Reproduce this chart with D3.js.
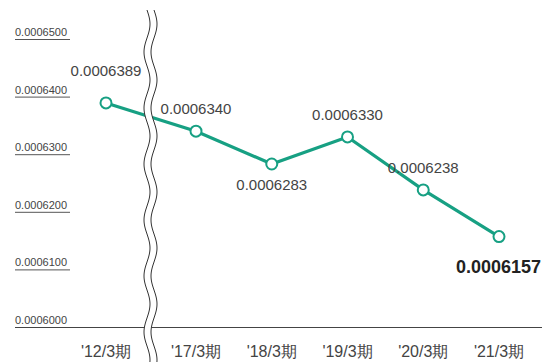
<!DOCTYPE html>
<html>
<head>
<meta charset="utf-8">
<script src="https://cdn.jsdelivr.net/npm/d3@7"></script>
<style>
  body { margin: 0; background: #fff; }
  text { font-family: "Liberation Sans Narrow", "Liberation Sans", Arial, sans-serif; fill: #333; }
</style>
</head>
<body>
<script>
'use strict';

const periods = ["'12/3期", "'17/3期", "'18/3期", "'19/3期", "'20/3期", "'21/3期"];
const values = [0.0006389, 0.0006340, 0.0006283, 0.0006330, 0.0006238, 0.0006157];
const yTicks = [0.0006000, 0.0006100, 0.0006200, 0.0006300, 0.0006400, 0.0006500];
// where each value label sits relative to its point
const labelPos = ["top", "above", "below", "above", "above", "bold"];

const width = 542, height = 362,
      green = "#17a083";

const svg = d3.select("body").append("svg")
    .attr("width", width)
    .attr("height", height);

const y = d3.scaleLinear().domain([0.0006, 0.00065]).range([327, 39]);
// first period sits before the axis break, the rest are evenly spaced after it
const xAfter = d3.scalePoint().domain(periods.slice(1)).range([196, 499]);
const xpos = (p) => p === periods[0] ? 106 : xAfter(p);

// y tick labels with underline
const ticks = svg.append("g").selectAll("g")
    .data(yTicks)
  .enter().append("g");

ticks.append("text")
    .attr("x", 15)
    .attr("y", (d) => y(d) - 3)
    .style("font-family", "'Liberation Sans', Arial, sans-serif")
    .style("font-size", "11px")
    .style("fill", "#444")
    .text((d) => d.toFixed(7));

ticks.filter((d) => d !== yTicks[0]).append("line")
    .attr("x1", 15).attr("x2", 70)
    .attr("y1", (d) => y(d) + 0.5).attr("y2", (d) => y(d) + 0.5)
    .attr("stroke", "#555").attr("stroke-width", 1);

// baseline
svg.append("line")
    .attr("x1", 15).attr("x2", width)
    .attr("y1", y(yTicks[0]) + 0.5).attr("y2", y(yTicks[0]) + 0.5)
    .attr("stroke", "#444").attr("stroke-width", 1);

// line
const pts = values.map((v, i) => [xpos(periods[i]), y(v)]);
svg.append("path")
    .datum(pts)
    .attr("fill", "none")
    .attr("stroke", green)
    .attr("stroke-width", 3.2)
    .attr("d", d3.line());

// axis break (two wavy lines, white between)
const waveL = [], waveR = [];
for (let yy = 10; yy <= height; yy += 2) {
  const off = 3 * Math.sin((yy - 10) / 56 * 2 * Math.PI);
  waveL.push([147 + off, yy]);
  waveR.push([154 + off, yy]);
}
svg.append("path")
    .attr("d", d3.line()(waveL.concat(waveR.slice().reverse())) + "Z")
    .attr("fill", "#fff");
[waveL, waveR].forEach((w) => {
  svg.append("path")
      .attr("d", d3.line()(w))
      .attr("fill", "none")
      .attr("stroke", "#333")
      .attr("stroke-width", 1);
});

// markers
svg.append("g").selectAll("circle")
    .data(pts)
  .enter().append("circle")
    .attr("cx", (d) => d[0])
    .attr("cy", (d) => d[1])
    .attr("r", 5.5)
    .attr("fill", "#fff")
    .attr("stroke", green)
    .attr("stroke-width", 2);

// value labels
svg.append("g").selectAll("text")
    .data(values)
  .enter().append("text")
    .attr("x", (d, i) => labelPos[i] === "bold" ? width - 1 : pts[i][0])
    .attr("y", (d, i) => {
      if (labelPos[i] === "top") return pts[i][1] - 27;
      if (labelPos[i] === "below") return pts[i][1] + 26;
      if (labelPos[i] === "bold") return pts[i][1] + 36;
      return pts[i][1] - 17;
    })
    .attr("text-anchor", (d, i) => labelPos[i] === "bold" ? "end" : "middle")
    .style("font-size", (d, i) => labelPos[i] === "bold" ? "18px" : "15px")
    .style("font-weight", (d, i) => labelPos[i] === "bold" ? "bold" : "normal")
    .style("fill", (d, i) => labelPos[i] === "bold" ? "#222" : "#444")
    .text((d) => d.toFixed(7));

// x labels
svg.append("g").selectAll("text")
    .data(periods)
  .enter().append("text")
    .attr("x", (d) => xpos(d))
    .attr("y", 357)
    .attr("text-anchor", "middle")
    .style("font-size", "16px")
    .style("fill", "#444")
    .text((d) => d);
</script>
</body>
</html>
